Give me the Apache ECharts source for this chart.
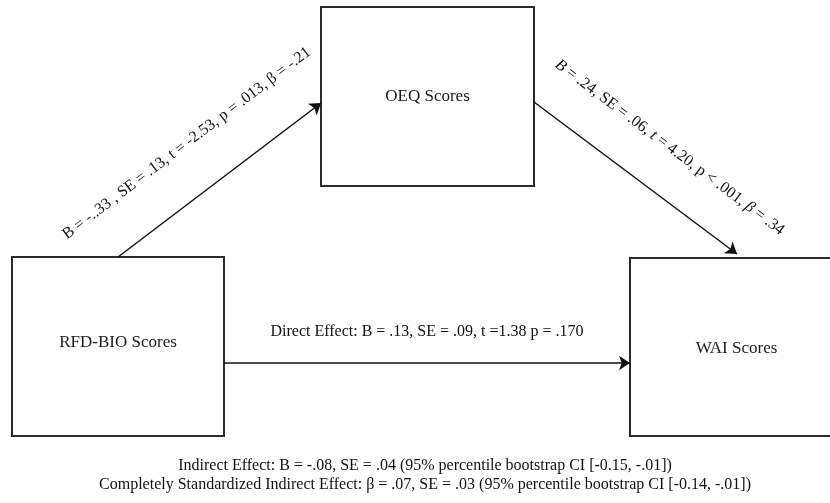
<!DOCTYPE html>
<html>
<head>
<meta charset="utf-8">
<title>Mediation model</title>
<script src="https://cdn.jsdelivr.net/npm/echarts@6/dist/echarts.min.js"></script>
<style>
html, body { margin: 0; padding: 0; background: #fff; }
#main { width: 830px; height: 503px; }
</style>
</head>
<body>
<div id="main"></div>
<script>
// variables of the model
var nodeNames = ['RFD-BIO Scores', 'OEQ Scores', 'WAI Scores'];
// path statistics: a path, b path, direct effect
var pathLabels = [
    'B = -..33 , SE = .13, t = -2.53, p = .013, β = -.21',
    '{i|B} = .24, SE = .06, {i|t} = 4.20, p < .001, {i|β} = .34',
    'Direct Effect: B = .13, SE = .09, t =1.38 p = .170'
];
var indirectLines = [
    'Indirect Effect: B = -.08, SE = .04 (95% percentile bootstrap CI [-0.15, -.01])',
    'Completely Standardized Indirect Effect: β = .07, SE = .03 (95% percentile bootstrap CI [-0.14, -.01])'
];

// layout, in canvas pixels (axes below map 1:1)
var boxRects = [[12, 257, 224, 436], [321, 7, 534, 186], [630, 258, 843, 436]];
var boxTextDy = [-4, 0, 2];
var arrowCoords = [
    [[118, 257], [321, 103]],
    [[534, 102], [737, 254]],
    [[224, 363], [630, 363]]
];
var labelDist = [41, 37, 23];
var labelShift = [-4, 9, 0];

var FONT = '"Liberation Serif", "Times New Roman", serif';

var dom = document.getElementById('main');
var myChart = echarts.init(dom);

myChart.setOption({
    animation: false,
    backgroundColor: '#fff',
    title: {
        text: indirectLines.join('\n'),
        left: 425,
        top: 456,
        textAlign: 'center',
        padding: 0,
        textStyle: {
            fontFamily: FONT,
            fontSize: 16,
            fontWeight: 'normal',
            color: '#111',
            lineHeight: 19
        }
    },
    grid: { left: 0, right: 0, top: 0, bottom: 0 },
    xAxis: { type: 'value', min: 0, max: 830, show: false },
    yAxis: { type: 'value', min: 0, max: 503, inverse: true, show: false },
    series: [
        {
            // boxes
            type: 'custom',
            coordinateSystem: 'cartesian2d',
            clip: false,
            data: boxRects.map(function (r) { return [(r[0] + r[2]) / 2, (r[1] + r[3]) / 2]; }),
            renderItem: function (params, api) {
                var i = params.dataIndex;
                var r = boxRects[i];
                var p0 = api.coord([r[0], r[1]]);
                var p1 = api.coord([r[2], r[3]]);
                return {
                    type: 'group',
                    children: [{
                        type: 'rect',
                        shape: { x: p0[0], y: p0[1], width: p1[0] - p0[0], height: p1[1] - p0[1] },
                        style: { fill: '#fff', stroke: '#2b2b2b', lineWidth: 2 }
                    }, {
                        type: 'text',
                        x: (p0[0] + p1[0]) / 2,
                        y: (p0[1] + p1[1]) / 2 + boxTextDy[i],
                        style: {
                            text: nodeNames[i],
                            font: '17px ' + FONT,
                            fill: '#1a1a1a',
                            align: 'center',
                            verticalAlign: 'middle'
                        }
                    }]
                };
            }
        },
        {
            // paths
            type: 'lines',
            coordinateSystem: 'cartesian2d',
            symbol: ['none', 'arrow'],
            symbolSize: [6, 11],
            lineStyle: { color: '#111', width: 1.5, opacity: 1 },
            label: {
                show: true,
                position: 'middle',
                fontFamily: FONT,
                fontSize: 16,
                lineHeight: 16,
                color: '#111',
                rich: {
                    i: { fontFamily: FONT, fontSize: 16, lineHeight: 16, fontStyle: 'italic', color: '#111' }
                }
            },
            data: arrowCoords.map(function (c, i) {
                var s = labelShift[i];
                return {
                    coords: c,
                    label: {
                        formatter: pathLabels[i],
                        distance: labelDist[i],
                        padding: [0, s < 0 ? -2 * s : 0, 0, s > 0 ? 2 * s : 0]
                    }
                };
            })
        }
    ]
});
window.addEventListener('resize', function () {
    myChart.resize();
});
</script>
</body>
</html>
